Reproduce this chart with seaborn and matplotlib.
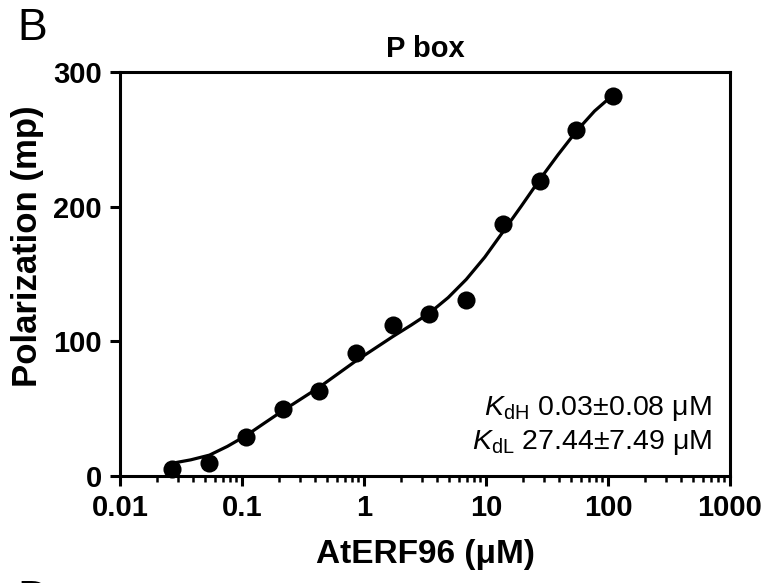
import numpy as np
import pandas as pd
import matplotlib
matplotlib.use("Agg")
import matplotlib.pyplot as plt
from matplotlib.ticker import FixedLocator, NullFormatter, FixedFormatter
import seaborn as sns

# ---- data ----
conc_uM = [0.0269, 0.0537, 0.107, 0.215, 0.43, 0.859, 1.72, 3.44, 6.88, 13.75, 27.5, 55, 110]
polarization_mp = [5, 10, 29, 50, 63, 91, 112, 120, 131, 187, 219, 257, 282]

fit_conc_uM = [0.0269, 0.038, 0.0541, 0.0759, 0.108, 0.151, 0.216, 0.302, 0.431, 0.603,
               0.859, 1.216, 1.72, 2.43, 3.44, 4.9, 6.89, 9.77, 13.7, 19.5,
               27.5, 38.9, 55, 77.6, 110]
fit_mp = [9.5, 12, 15.5, 22, 30, 39, 48.5, 57, 66, 75.5,
          85.5, 94.5, 103.5, 112, 121, 132.5, 146, 162.5, 181, 200.5,
          220, 238.5, 256, 271, 283]

x_ticks = [0.01, 0.1, 1, 10, 100, 1000]
x_ticklabels = ["0.01", "0.1", "1", "10", "100", "1000"]
y_ticks = [0, 100, 200, 300]
y_ticklabels = ["0", "100", "200", "300"]

title = "P box"
xlabel = "AtERF96 (μM)"
ylabel = "Polarization (mp)"
kd_lines = [r"$\mathit{K}_{\mathrm{dH}}$ 0.03±0.08 μM",
            r"$\mathit{K}_{\mathrm{dL}}$ 27.44±7.49 μM"]

pts = pd.DataFrame({"conc": conc_uM, "mp": polarization_mp})
fit = pd.DataFrame({"conc": fit_conc_uM, "mp": fit_mp})

sns.set_theme(style="ticks")
plt.rcParams["font.family"] = ["Liberation Sans", "DejaVu Sans"]
plt.rcParams["mathtext.fontset"] = "custom"
plt.rcParams["mathtext.rm"] = "Liberation Sans"
plt.rcParams["mathtext.it"] = "Liberation Sans:italic"
plt.rcParams["mathtext.bf"] = "Liberation Sans:bold"
for k in ["text.color", "axes.labelcolor", "xtick.color", "ytick.color", "axes.edgecolor"]:
    plt.rcParams[k] = "black"

fig = plt.figure(figsize=(7.67, 5.83), dpi=100)
ax = fig.add_axes([120 / 767, 1 - 476 / 583, 610 / 767, 404 / 583])

sns.lineplot(data=fit, x="conc", y="mp", ax=ax, color="black", linewidth=2.3,
             sort=False, estimator=None, legend=False)
sns.scatterplot(data=pts, x="conc", y="mp", ax=ax, color="black", s=170,
                edgecolor="black", linewidth=0, zorder=5, clip_on=False, legend=False)

ax.set_xscale("log")
ax.set_xlim(0.01, 1000)
ax.set_ylim(0, 300)

ax.xaxis.set_major_locator(FixedLocator(x_ticks))
ax.xaxis.set_major_formatter(FixedFormatter(x_ticklabels))
minors = [m * d for d in [0.01, 0.1, 1, 10, 100] for m in range(2, 10)]
ax.xaxis.set_minor_locator(FixedLocator(minors))
ax.xaxis.set_minor_formatter(NullFormatter())
ax.yaxis.set_major_locator(FixedLocator(y_ticks))
ax.yaxis.set_major_formatter(FixedFormatter(y_ticklabels))

for s in ax.spines.values():
    s.set_linewidth(2.2)
    s.set_color("black")
    s.set_visible(True)

ax.tick_params(axis="both", which="major", direction="out", length=7, width=2.2,
               color="black", labelsize=21, pad=6, labelcolor="black")
ax.tick_params(axis="x", which="minor", direction="out", length=4, width=1.8, color="black")
ax.tick_params(axis="y", which="minor", length=0)
ax.tick_params(top=False, right=False)
for lab in ax.get_xticklabels() + ax.get_yticklabels():
    lab.set_fontweight("bold")

ax.set_xlabel(xlabel, fontsize=24, fontweight="bold", labelpad=12)
ax.set_ylabel(ylabel, fontsize=25, fontweight="bold")
ax.yaxis.set_label_coords(-0.124, 0.57)
ax.set_title(title, fontsize=21, fontweight="bold", pad=11)

ax.text(0.9705, 0.168, kd_lines[0], transform=ax.transAxes, ha="right", va="center",
        fontsize=20.5, color="black")
ax.text(0.9705, 0.084, kd_lines[1], transform=ax.transAxes, ha="right", va="center",
        fontsize=20.5, color="black")

fig.text(17 / 767, 1 - 29 / 583, "B", fontsize=32, ha="left", va="center", color="black")
fig.text(17 / 767, 1 - 600 / 583, "D", fontsize=32, ha="left", va="center", color="black")

fig.savefig("out.png", dpi=100)
